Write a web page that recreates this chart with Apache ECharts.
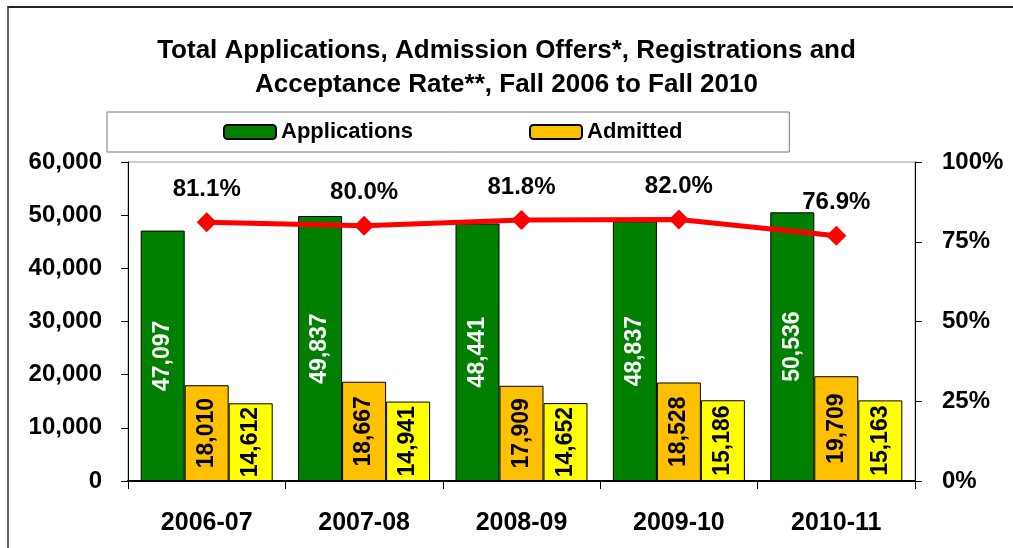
<!DOCTYPE html>
<html>
<head>
<meta charset="utf-8">
<script src="https://cdn.jsdelivr.net/npm/echarts@6/dist/echarts.min.js"></script>
<style>
html, body { margin: 0; padding: 0; background: #fff; }
#frame {
  position: absolute;
  left: 7px;
  top: 6px;
  width: 1100px;
  height: 600px;
  border-top: 2px solid #222;
  border-left: 2px solid #666;
}
#main { position: absolute; left: 0; top: 0; width: 1013px; height: 548px; }
</style>
</head>
<body>
<div id="frame"></div>
<div id="main"></div>
<script>
const years = ['2006-07', '2007-08', '2008-09', '2009-10', '2010-11']
const applications = [47097, 49837, 48441, 48837, 50536]
const admitted = [18010, 18667, 17909, 18528, 19709]
const registrations = [14612, 14941, 14652, 15186, 15163]
const acceptRate = [81.1, 80.0, 81.8, 82.0, 76.9]
const leftTicks = [0, 60000, 10000]
const rightTicks = [0, 100, 25]

const chartDom = document.getElementById('main')
const myChart = echarts.init(chartDom)

const fmt = function (v) {
  return String(v).replace(/\B(?=(\d{3})+(?!\d))/g, ',')
}

const barLabel = function (color) {
  return {
    show: true,
    position: 'inside',
    rotate: 90,
    color: color,
    fontFamily: 'Liberation Sans',
    fontWeight: 'bold',
    fontSize: 23,
    formatter: function (p) { return fmt(p.value) }
  }
}

const option = {
  animation: false,
  title: {
    text: 'Total Applications, Admission Offers*, Registrations and\nAcceptance Rate**, Fall 2006 to Fall 2010',
    left: 'center',
    top: 29,
    textStyle: {
      fontFamily: 'Liberation Sans',
      fontWeight: 'bold',
      fontSize: 26,
      lineHeight: 34,
      color: '#000'
    }
  },
  legend: {
    data: ['Applications', 'Admitted'],
    left: 107,
    top: 112,
    padding: [9, 107, 9, 116],
    itemGap: 116,
    itemWidth: 52,
    itemHeight: 14,
    backgroundColor: '#fff',
    borderColor: '#777',
    borderWidth: 1,
    borderRadius: 0,
    textStyle: {
      fontFamily: 'Liberation Sans',
      fontWeight: 'bold',
      fontSize: 22,
      color: '#000'
    }
  },
  grid: {
    left: 128,
    right: 98,
    top: 162,
    bottom: 67,
    show: true,
    borderColor: '#999',
    borderWidth: 1
  },
  xAxis: {
    type: 'category',
    data: years,
    axisLine: { lineStyle: { color: '#000', width: 2 } },
    axisTick: { show: true, length: 8, lineStyle: { color: '#000' } },
    axisLabel: {
      margin: 30,
      fontFamily: 'Liberation Sans',
      fontWeight: 'bold',
      fontSize: 25,
      color: '#000'
    }
  },
  yAxis: [
    {
      type: 'value',
      min: leftTicks[0],
      max: leftTicks[1],
      interval: leftTicks[2],
      splitLine: { show: false },
      axisLine: { show: true, lineStyle: { color: '#000', width: 1 } },
      axisTick: { show: true, length: 7, lineStyle: { color: '#000' } },
      axisLabel: {
        margin: 26,
        fontFamily: 'Liberation Sans',
        fontWeight: 'bold',
        fontSize: 24,
        color: '#000',
        formatter: function (v) { return fmt(v) }
      }
    },
    {
      type: 'value',
      min: rightTicks[0],
      max: rightTicks[1],
      interval: rightTicks[2],
      splitLine: { show: false },
      axisLine: { show: true, lineStyle: { color: '#000', width: 1 } },
      axisTick: { show: true, length: 7, lineStyle: { color: '#000' } },
      axisLabel: {
        margin: 27,
        fontFamily: 'Liberation Sans',
        fontWeight: 'bold',
        fontSize: 24,
        color: '#000',
        formatter: '{value}%'
      }
    }
  ],
  series: [
    {
      name: 'Applications',
      type: 'bar',
      barWidth: 44,
      barGap: '0%',
      itemStyle: { color: '#008000', borderColor: '#000', borderWidth: 1 },
      label: barLabel('#fff'),
      data: applications
    },
    {
      name: 'Admitted',
      type: 'bar',
      barWidth: 44,
      itemStyle: { color: '#FFC000', borderColor: '#000', borderWidth: 1 },
      label: barLabel('#000'),
      data: admitted
    },
    {
      name: 'Registrations',
      type: 'bar',
      barWidth: 44,
      itemStyle: { color: '#FFFF00', borderColor: '#000', borderWidth: 1 },
      label: barLabel('#000'),
      data: registrations
    },
    {
      name: 'Acceptance Rate',
      type: 'line',
      yAxisIndex: 1,
      symbol: 'diamond',
      symbolSize: 20,
      lineStyle: { color: '#FF0000', width: 5 },
      itemStyle: { color: '#FF0000' },
      label: {
        show: true,
        position: 'top',
        distance: 11,
        fontFamily: 'Liberation Sans',
        fontWeight: 'bold',
        fontSize: 24,
        color: '#000',
        formatter: function (p) { return p.value.toFixed(1) + '%' }
      },
      data: acceptRate
    }
  ]
}

myChart.setOption(option)
window.addEventListener('resize', () => {
  myChart.resize()
})
</script>
</body>
</html>
